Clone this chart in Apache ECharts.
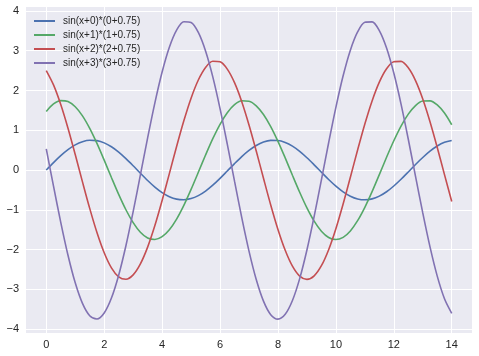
<!DOCTYPE html>
<html><head><meta charset="utf-8">
<script src="https://cdn.jsdelivr.net/npm/echarts@6/dist/echarts.min.js"></script>
<style>html,body{margin:0;padding:0;background:#fff}#c{width:479px;height:356px}</style>
</head><body><div id="c"></div>
<script>
const xValues = [0,0.25,0.5,0.75,1,1.25,1.5,1.75,2,2.25,2.5,2.75,3,3.25,3.5,3.75,4,4.25,4.5,4.75,5,5.25,5.5,5.75,6,6.25,6.5,6.75,7,7.25,7.5,7.75,8,8.25,8.5,8.75,9,9.25,9.5,9.75,10,10.25,10.5,10.75,11,11.25,11.5,11.75,12,12.25,12.5,12.75,13,13.25,13.5,13.75,14];
const xTicks = [0,2,4,6,8,10,12,14];
const yTicks = [-4,-3,-2,-1,0,1,2,3,4];
const seriesNames = ['sin(x+0)*(0+0.75)','sin(x+1)*(1+0.75)','sin(x+2)*(2+0.75)','sin(x+3)*(3+0.75)'];
const s0 = [0,0.186,0.360,0.511,0.631,0.712,0.748,0.738,0.682,0.584,0.449,0.286,0.106,-0.081,-0.263,-0.429,-0.568,-0.671,-0.733,-0.749,-0.719,-0.644,-0.529,-0.381,-0.210,-0.025,0.161,0.338,0.493,0.617,0.704,0.746,0.742,0.692,0.599,0.469,0.309,0.130,-0.056,-0.240,-0.408,-0.551,-0.660,-0.728,-0.750,-0.726,-0.657,-0.547,-0.402,-0.233,-0.050,0.137,0.315,0.474,0.603,0.695,0.743];
const s1 = [1.473,1.661,1.746,1.722,1.591,1.362,1.047,0.668,0.247,-0.189,-0.614,-1.000,-1.324,-1.566,-1.711,-1.749,-1.678,-1.503,-1.235,-0.890,-0.489,-0.058,0.376,0.788,1.150,1.441,1.642,1.741,1.731,1.615,1.397,1.093,0.721,0.304,-0.132,-0.559,-0.952,-1.286,-1.539,-1.698,-1.750,-1.694,-1.532,-1.275,-0.939,-0.545,-0.116,0.320,0.735,1.105,1.406,1.621,1.734,1.739,1.636,1.432,1.138];
const s2 = [2.501,2.140,1.646,1.050,0.388,-0.298,-0.965,-1.572,-2.081,-2.461,-2.688,-2.748,-2.637,-2.362,-1.940,-1.398,-0.768,-0.091,0.592,1.238,1.807,2.264,2.580,2.735,2.721,2.537,2.196,1.718,1.133,0.478,-0.207,-0.879,-1.496,-2.020,-2.419,-2.668,-2.750,-2.662,-2.408,-2.004,-1.476,-0.856,-0.183,0.502,1.156,1.737,2.210,2.547,2.724,2.732,2.571,2.250,1.788,1.216,0.568,-0.116,-0.792];
const s3 = [0.529,-0.406,-1.316,-2.144,-2.838,-3.356,-3.666,-3.747,-3.596,-3.221,-2.646,-1.906,-1.048,-0.125,0.807,1.688,2.464,3.087,3.518,3.730,3.710,3.460,2.994,2.343,1.545,0.652,-0.282,-1.198,-2.040,-2.755,-3.299,-3.638,-3.750,-3.630,-3.283,-2.733,-2.012,-1.167,-0.249,0.685,1.576,2.369,3.014,3.473,3.715,3.726,3.506,3.068,2.439,1.658,0.774,-0.158,-1.080,-1.934,-2.669,-3.238,-3.605];
const colors = ['#4C72B0','#55A868','#C44E52','#8172B2'];
const allSeries = [s0,s1,s2,s3];

const chart = echarts.init(document.getElementById('c'), null, {renderer:'canvas'});
const font = '"Liberation Sans", Arial, sans-serif';
chart.setOption({
  animation: false,
  backgroundColor: '#ffffff',
  grid: {left: 26, right: 7, top: 7, bottom: 23, show: true, backgroundColor: '#EAEAF2', borderWidth: 0},
  legend: {
    orient: 'vertical', left: 29, top: 10,
    itemWidth: 21, itemHeight: 2, itemGap: 2,
    icon: 'rect',
    data: seriesNames,
    textStyle: {fontFamily: font, fontSize: 10, color: '#262626', lineHeight: 12, padding: [0,0,0,3]}
  },
  xAxis: {
    type: 'value', min: -0.7, max: 14.7,
    axisLine: {show: false}, axisTick: {show: false, customValues: xTicks},
    splitLine: {show: true, lineStyle: {color: '#ffffff', width: 1}},
    axisLabel: {customValues: xTicks, fontFamily: font, fontSize: 11, color: '#262626', margin: 6}
  },
  yAxis: {
    type: 'value', min: -4.1, max: 4.1,
    axisLine: {show: false}, axisTick: {show: false, customValues: yTicks},
    splitLine: {show: true, lineStyle: {color: '#ffffff', width: 1}},
    axisLabel: {customValues: yTicks, fontFamily: font, fontSize: 11, color: '#262626', margin: 7,
      formatter: v => (v < 0 ? '\u2212' + Math.abs(v) : String(v))}
  },
  series: allSeries.map((arr, i) => ({
    name: seriesNames[i], type: 'line', showSymbol: false, smooth: 0.3,
    color: colors[i],
    lineStyle: {width: 1.6, color: colors[i]},
    data: arr.map((v, j) => [xValues[j], v])
  }))
});
</script></body></html>
